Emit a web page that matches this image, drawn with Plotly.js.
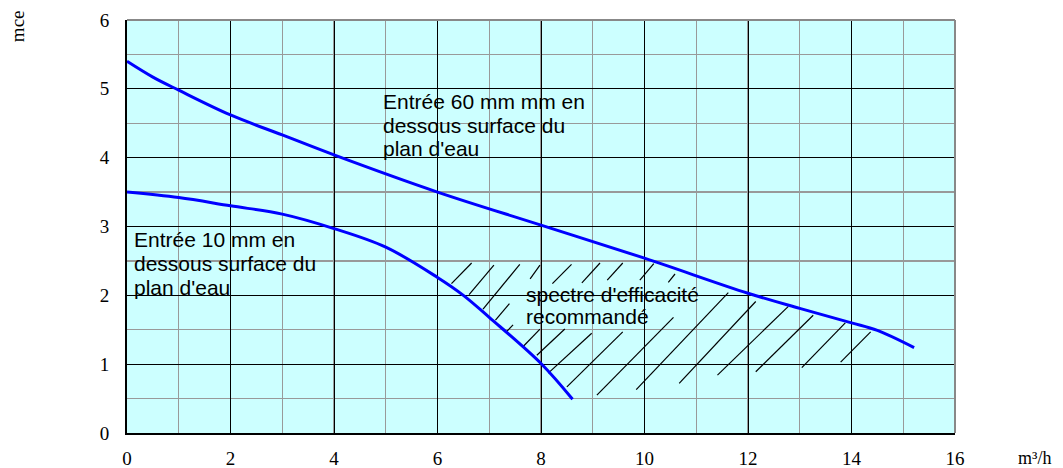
<!DOCTYPE html>
<html>
<head>
<meta charset="utf-8">
<script src="https://cdn.plot.ly/plotly-3.0.1.min.js"></script>
<style>html,body{margin:0;padding:0;background:#fff;}#chart{width:1063px;height:468px;}</style>
</head>
<body>
<div id="chart"></div>
<script>
// Curve: entrée 60 mm
const upperX = [0, 0.5, 1, 2, 3, 4, 6, 8, 10, 12, 13, 14, 14.5, 15.21];
const upperY = [5.40, 5.17, 4.98, 4.62, 4.33, 4.04, 3.50, 3.02, 2.54, 2.03, 1.81, 1.60, 1.49, 1.24];
// Curve: entrée 10 mm
const lowerX = [0, 1, 2, 3, 4, 5, 6, 6.5, 7, 8, 8.61];
const lowerY = [3.50, 3.42, 3.30, 3.18, 2.97, 2.70, 2.26, 2.00, 1.68, 1.01, 0.49];
// Hatch segments (start / end)
const hatchX0 = [6.27, 6.61, 6.88, 7.12, 7.33, 7.79, 8.22, 8.79, 9.28, 9.91, 10.46,
                 7.66, 7.92, 8.14, 8.50, 9.08, 9.84, 10.67, 11.41, 12.15, 13.04, 13.79];
const hatchY0 = [2.17, 2.01, 1.80, 1.64, 1.47, 2.24, 2.17, 2.18, 2.22, 2.22, 2.19,
                 1.26, 1.13, 0.87, 0.67, 0.55, 0.63, 0.72, 0.84, 0.89, 0.95, 1.03];
const hatchX1 = [6.66, 7.09, 7.59, 7.39, 7.46, 7.98, 8.59, 9.14, 9.58, 10.18, 10.59,
                 7.98, 8.46, 8.98, 9.58, 10.56, 11.62, 12.15, 12.78, 13.26, 13.88, 14.37];
const hatchY1 = [2.47, 2.44, 2.45, 1.88, 1.57, 2.44, 2.45, 2.47, 2.47, 2.46, 2.31,
                 1.51, 1.51, 1.45, 1.47, 1.68, 2.04, 1.91, 1.84, 1.71, 1.60, 1.47];
// Axis ticks
const xTicks = [0, 2, 4, 6, 8, 10, 12, 14, 16];
const yTicks = [0, 1, 2, 3, 4, 5, 6];
// Labels
const label60 = ["Entrée 60 mm mm en", "dessous surface du", "plan d'eau"];
const label60X = 4.92, label60Y = [4.81, 4.47, 4.14];
const label10 = ["Entrée 10 mm en", "dessous surface du", "plan d'eau"];
const label10X = 0.12, label10Y = [2.81, 2.46, 2.12];
const labelSpec = ["spectre d'efficacité", "recommandé"];
const labelSpecX = 7.69, labelSpecY = [2.01, 1.69];

const hx = [], hy = [];
for (let i = 0; i < hatchX0.length; i++) {
  hx.push(hatchX0[i], hatchX1[i], null);
  hy.push(hatchY0[i], hatchY1[i], null);
}

const traces = [
  {x: hx, y: hy, mode: 'lines', line: {color: '#000', width: 1.2}, hoverinfo: 'skip', connectgaps: false},
  {x: upperX, y: upperY, mode: 'lines', line: {color: '#0000FF', width: 3, shape: 'spline', smoothing: 1}},
  {x: lowerX, y: lowerY, mode: 'lines', line: {color: '#0000FF', width: 3, shape: 'spline', smoothing: 1}}
];

const textFont = {family: 'Liberation Sans, Arial, sans-serif', size: 21, color: '#000'};
const annotations = [];
function addLines(lines, x, ys) {
  lines.forEach((t, i) => annotations.push({
    x: x, y: ys[i], xref: 'x', yref: 'y', text: t, showarrow: false,
    xanchor: 'left', yanchor: 'middle', font: textFont, borderpad: 0
  }));
}
addLines(label60, label60X, label60Y);
addLines(label10, label10X, label10Y);
addLines(labelSpec, labelSpecX, labelSpecY);
annotations.push({x: -0.1322, y: 0.984, xref: 'paper', yref: 'paper', text: 'mce', textangle: -90,
  showarrow: false, xanchor: 'center', yanchor: 'middle',
  font: {family: 'Liberation Serif, Times New Roman, serif', size: 19, color: '#000'}});
annotations.push({x: 1.0966, y: -0.0605, xref: 'paper', yref: 'paper', text: 'm³/h',
  showarrow: false, xanchor: 'center', yanchor: 'middle',
  font: {family: 'Liberation Serif, Times New Roman, serif', size: 18, color: '#000'}});

const tickFont = {family: 'Liberation Serif, Times New Roman, serif', size: 19, color: '#000'};
const layout = {
  width: 1063, height: 468,
  margin: {l: 127, r: 108, t: 20, b: 35, pad: 0},
  paper_bgcolor: '#fff', plot_bgcolor: '#CCFFFF',
  showlegend: false,
  xaxis: {
    range: [0, 16], tickvals: xTicks, ticktext: xTicks.map(String), tickfont: tickFont,
    showgrid: true, gridcolor: '#000', gridwidth: 1,
    minor: {dtick: 1, showgrid: true, gridcolor: '#999', gridwidth: 1.2},
    showline: true, linecolor: '#000', linewidth: 2, zeroline: false,
    ticks: '', ticklabelstandoff: 7, fixedrange: true
  },
  yaxis: {
    range: [0, 6], tickvals: yTicks, ticktext: yTicks.map(String), tickfont: tickFont,
    showgrid: true, gridcolor: '#000', gridwidth: 1,
    minor: {dtick: 0.5, showgrid: true, gridcolor: '#999', gridwidth: 1.2},
    showline: true, linecolor: '#000', linewidth: 2, zeroline: false,
    ticks: '', ticklabelstandoff: 12, fixedrange: true
  },
  shapes: [
    {type: 'line', xref: 'paper', yref: 'paper', x0: 0, x1: 1, y0: 1, y1: 1, line: {color: '#888', width: 2}, layer: 'above'},
    {type: 'line', xref: 'paper', yref: 'paper', x0: 1, x1: 1, y0: 0, y1: 1, line: {color: '#888', width: 2}, layer: 'above'}
  ],
  annotations: annotations
};

Plotly.newPlot('chart', traces, layout, {staticPlot: true, displayModeBar: false});
</script>
</body>
</html>
